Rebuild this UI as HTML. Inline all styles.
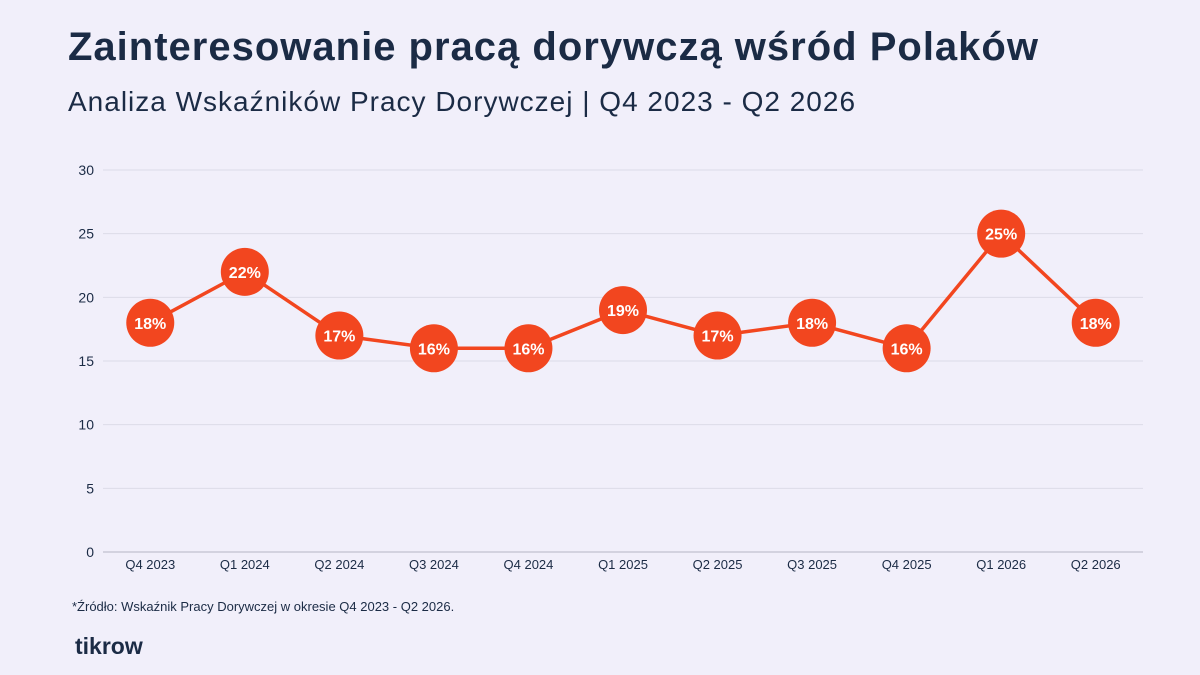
<!DOCTYPE html>
<html><head><meta charset="utf-8"><style>
body{margin:0;width:1200px;height:675px;background:#f1effa;font-family:"Liberation Sans",sans-serif;color:#1b2b45;overflow:hidden;position:relative}
#title{position:absolute;left:68px;top:25px;font-size:40px;font-weight:bold;margin:0;letter-spacing:1px;white-space:nowrap}
#sub{position:absolute;left:68px;top:86px;font-size:28px;margin:0;letter-spacing:1px;white-space:nowrap}
#src{position:absolute;left:72px;top:599px;font-size:13px}
#logo{position:absolute;left:75px;top:633px;font-size:23px;font-weight:bold}
svg{position:absolute;left:0;top:0}
</style></head><body>
<h1 id="title">Zainteresowanie pracą dorywczą wśród Polaków</h1>
<p id="sub">Analiza Wskaźników Pracy Dorywczej | Q4 2023 - Q2 2026</p>
<div id="src">*Źródło: Wskaźnik Pracy Dorywczej w okresie Q4 2023 - Q2 2026.</div>
<div id="logo">tikrow</div>
<svg id="chart" width="1200" height="675"></svg>
<script>
const categories=["Q4 2023","Q1 2024","Q2 2024","Q3 2024","Q4 2024","Q1 2025","Q2 2025","Q3 2025","Q4 2025","Q1 2026","Q2 2026"];
const values=[18,22,17,16,16,19,17,18,16,25,18];
const yTicks=[0,5,10,15,20,25,30];
const NS="http://www.w3.org/2000/svg";
const svg=document.getElementById('chart');
const L=103,R=1143,T=170,B=552,yMax=30;
const x=i=>L+(R-L)/categories.length*(i+0.5);
const y=v=>B-(B-T)*v/yMax;
function mk(t,a){const e=document.createElementNS(NS,t);for(const k in a)e.setAttribute(k,a[k]);svg.appendChild(e);return e;}
yTicks.forEach(t=>{
 const g=mk('line',{x1:L,x2:R,y1:y(t),y2:y(t),stroke:t===0?'#c9c8d6':'#dcdbe8','stroke-width':t===0?1.5:1});
 
 
 const l=mk('text',{x:94,y:y(t)+5,'text-anchor':'end','font-size':14,fill:'#1b2b45'});l.textContent=t;
 
 
});
categories.forEach((c,i)=>{
 const l=mk('text',{x:x(i),y:569,'text-anchor':'middle','font-size':13,fill:'#1b2b45'});l.textContent=c;
 
 
});
const pl=mk('polyline',{points:values.map((v,i)=>x(i)+','+y(v)).join(' '),fill:'none',stroke:'#f2461f','stroke-width':3.5});


values.forEach((v,i)=>{
 const c=mk('circle',{cx:x(i),cy:y(v),r:24,fill:'#f2461f'});
 
 
 const t=mk('text',{x:x(i),y:y(v)+6,'text-anchor':'middle','font-size':16,'font-weight':'bold',fill:'#fff'});t.textContent=v+'%';
 
 
});
</script>
</body></html>
